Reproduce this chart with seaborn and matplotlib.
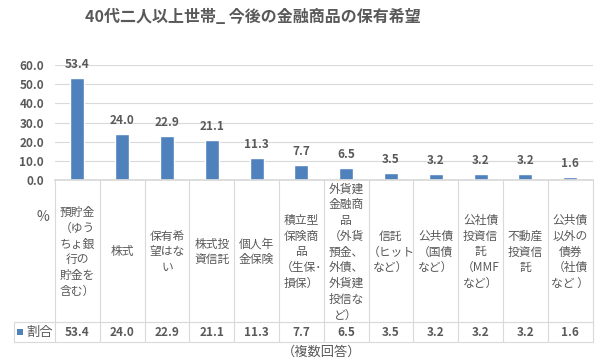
import matplotlib
matplotlib.use("Agg")
import matplotlib.pyplot as plt
import matplotlib.transforms as mtransforms
from matplotlib.lines import Line2D
from matplotlib.patches import Rectangle
import seaborn as sns
import pandas as pd

title = "40代二人以上世帯_ 今後の金融商品の保有希望"
categories = [
    "預貯金\n（ゆう\nちょ銀\n行の\n貯金を\n含む）",
    "株式",
    "保有希\n望はな\nい",
    "株式投\n資信託",
    "個人年\n金保険",
    "積立型\n保険商\n品\n（生保･\n損保）",
    "外貨建\n金融商\n品\n（外貨\n預金、\n外債、\n外貨建\n投信な\nど）",
    "信託\n（ヒット\nなど）",
    "公共債\n（国債\nなど）",
    "公社債\n投資信\n託\n（MMF\nなど）",
    "不動産\n投資信\n託",
    "公共債\n以外の\n債券\n（社債\nなど ）",
]
values = [53.4, 24.0, 22.9, 21.1, 11.3, 7.7, 6.5, 3.5, 3.2, 3.2, 3.2, 1.6]
series_name = "割合"
unit_label = "%"
note = "（複数回答）"
yticks = [0, 10, 20, 30, 40, 50, 60]

sns.set_theme(style="white")
plt.rcParams['font.family'] = ['Noto Sans CJK JP', 'DejaVu Sans']

BLUE = "#4F81BD"
GRAY = "#595959"
LINE = "#D9D9D9"

W, H = 600, 360
fig = plt.figure(figsize=(6, 3.6), dpi=100)
fig.patch.set_facecolor("white")
ax_left, ax_right, ax_top, ax_bot = 55, 592.6, 65, 180
ax = fig.add_axes([ax_left / W, 1 - ax_bot / H, (ax_right - ax_left) / W, (ax_bot - ax_top) / H])

df = pd.DataFrame({"cat": list(range(len(values))), "val": values})
sns.barplot(data=df, x="cat", y="val", color=BLUE, width=0.31, saturation=1, ax=ax, native_scale=True)
ax.set_xlim(-0.5, len(values) - 0.5)
ax.set_ylim(0, 60)
ax.set_yticks(yticks)
ax.set_yticklabels([f"{v:.1f}" for v in yticks], fontsize=8.5, fontweight="bold", color=GRAY)
ax.set_xticks([])
ax.set_xlabel("")
ax.set_ylabel("")
ax.tick_params(axis="y", length=0, pad=8)
for s in ["top", "right", "left"]:
    ax.spines[s].set_visible(False)
ax.spines["bottom"].set_color(LINE)
ax.yaxis.grid(True, color=LINE, linewidth=0.8)
ax.set_axisbelow(True)

for cont in ax.containers:
    ax.bar_label(cont, labels=[f"{v:.1f}" for v in values], padding=5,
                 fontsize=8.5, fontweight="bold", color=GRAY)

fig.text(253 / W, 1 - 17 / H, title, ha="center", va="center",
         fontsize=11.5, fontweight="bold", color=GRAY)

# table
def fy(px):
    return 1 - px / H

trans = mtransforms.blended_transform_factory(ax.transData, fig.transFigure)
row_top, row_mid, row_bot = 180, 322, 342
n = len(values)
for i in range(n + 1):
    x = i - 0.5
    fig.add_artist(Line2D([x, x], [fy(row_top), fy(row_bot)], transform=trans,
                          color=LINE, linewidth=0.8))
hdr_left = -0.5 - (ax_left - 14) / ((ax_right - ax_left) / n)
for yy in (row_mid, row_bot):
    fig.add_artist(Line2D([hdr_left, n - 0.5], [fy(yy), fy(yy)], transform=trans,
                          color=LINE, linewidth=0.8))
fig.add_artist(Line2D([hdr_left, hdr_left], [fy(row_mid), fy(row_bot)], transform=trans,
                      color=LINE, linewidth=0.8))

for i, (c, v) in enumerate(zip(categories, values)):
    fig.text(i, fy((row_top + row_mid) / 2 + 1), c, transform=trans, ha="center", va="center",
             fontsize=8.5, color=GRAY, linespacing=1.28, multialignment="center")
    fig.text(i, fy((row_mid + row_bot) / 2), f"{v:.1f}", transform=trans, ha="center",
             va="center", fontsize=8.5, fontweight="bold", color=GRAY)

fig.text(43 / W, fy(217), unit_label, ha="center", va="center", fontsize=10, color=GRAY)
fig.add_artist(Rectangle((17 / W, fy(335)), 6 / W, 6 / H, transform=fig.transFigure,
                         facecolor=BLUE, edgecolor="none"))
fig.text(26 / W, fy(332), series_name, ha="left", va="center", fontsize=9.5, color=GRAY)
fig.text(322 / W, fy(352), note, ha="center", va="center", fontsize=9.5, color=GRAY)

fig.savefig("out.png", dpi=100)
